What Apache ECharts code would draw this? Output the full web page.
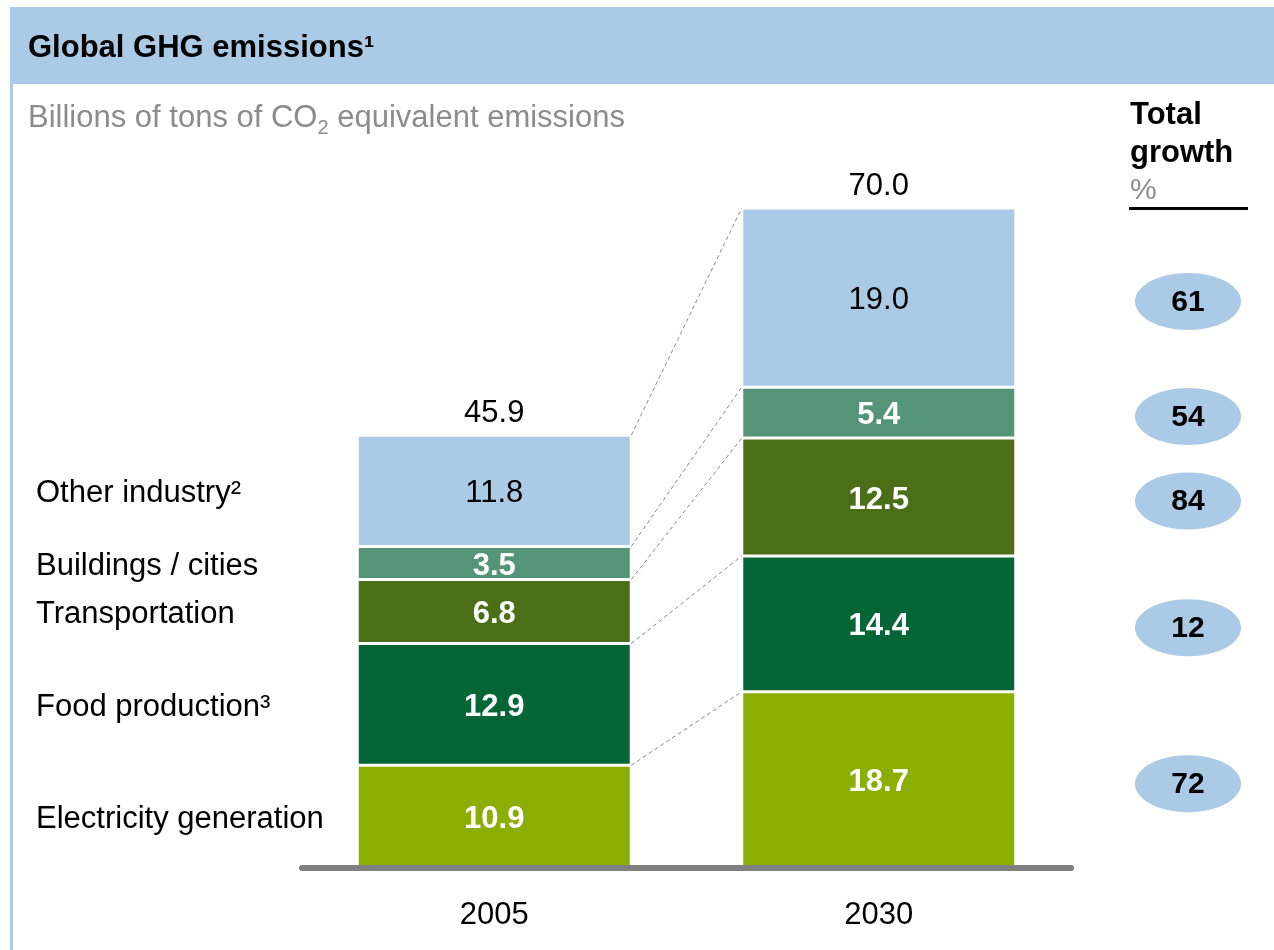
<!DOCTYPE html>
<html>
<head>
<meta charset="utf-8">
<script src="https://cdn.jsdelivr.net/npm/echarts@6/dist/echarts.min.js"></script>
<style>
html,body{margin:0;padding:0;background:#fff;}
#chart{width:1274px;height:950px;}
</style>
</head>
<body>
<div id="chart"></div>
<script>
// ---- data ----
const categories = ['2005', '2030'];
const sectors = ['Electricity generation', 'Food production³', 'Transportation', 'Buildings / cities', 'Other industry²'];
const values2005 = [10.9, 12.9, 6.8, 3.5, 11.8];
const values2030 = [18.7, 14.4, 12.5, 5.4, 19.0];
const totals = [45.9, 70.0];
const growthPct = [72, 12, 84, 54, 61];

// ---- styles ----
const FONT = '"Liberation Sans", Arial, Helvetica, sans-serif';
const FS = 31;
const LIGHT_BLUE = '#abcae6';
const colors = ['#8cad04', '#046637', '#4a6f16', '#54957a', LIGHT_BLUE];
const darkLabel = [true, true, true, true, false];
const BAR_W = 274;

const chart = echarts.init(document.getElementById('chart'));

function cum(arr, i) { let s = 0; for (let k = 0; k < i; k++) s += arr[k]; return s; }

const barSeries = sectors.map((name, i) => ({
  name: name,
  type: 'bar',
  stack: 'total',
  barWidth: BAR_W,
  data: [values2005[i], values2030[i]],
  itemStyle: { color: colors[i], borderColor: '#ffffff', borderWidth: 1.5 },
  label: {
    show: true,
    position: 'inside',
    offset: [0, 3],
    formatter: p => p.value.toFixed(1),
    fontFamily: FONT,
    fontSize: FS,
    fontWeight: darkLabel[i] ? 'bold' : 'normal',
    color: darkLabel[i] ? '#ffffff' : '#000000'
  },
  z: 2
}));

const overlaySeries = {
  type: 'custom',
  data: sectors.map((s, i) => [i, 0]),
  silent: true,
  z: 3,
  renderItem: function (params, api) {
    const i = params.dataIndex;
    const top05 = cum(values2005, i + 1), bot05 = cum(values2005, i);
    const top30 = cum(values2030, i + 1), bot30 = cum(values2030, i);
    const p1 = api.coord([0, top05]);
    const p2 = api.coord([1, top30]);
    const mid05 = api.coord([0, (top05 + bot05) / 2]);
    const mid30 = api.coord([1, (top30 + bot30) / 2]);
    return {
      type: 'group',
      children: [
        {
          type: 'line',
          shape: { x1: p1[0] + BAR_W / 2, y1: p1[1], x2: p2[0] - BAR_W / 2, y2: p2[1] },
          style: { stroke: '#8a8a8a', lineWidth: 1, lineDash: [4, 3] }
        },
        {
          type: 'text',
          x: 36, y: mid05[1] + 3,
          style: { text: sectors[i], fontFamily: FONT, fontSize: FS, fill: '#000', align: 'left', verticalAlign: 'middle' }
        },
        {
          type: 'ellipse',
          shape: { cx: 1188, cy: mid30[1] + 4, rx: 53, ry: 28.5 },
          style: { fill: LIGHT_BLUE }
        },
        {
          type: 'text',
          x: 1188, y: mid30[1] + 5,
          style: { text: String(growthPct[i]), fontFamily: FONT, fontSize: 30, fontWeight: 'bold', fill: '#000', align: 'center', verticalAlign: 'middle' }
        }
      ]
    };
  }
};

const totalSeries = {
  type: 'custom',
  data: totals.map((t, i) => [i, t]),
  silent: true,
  z: 3,
  renderItem: function (params, api) {
    const p = api.coord([api.value(0), api.value(1)]);
    return {
      type: 'text',
      x: p[0], y: p[1] - 22,
      style: { text: totals[params.dataIndex].toFixed(1), fontFamily: FONT, fontSize: FS, fill: '#000', align: 'center', verticalAlign: 'middle' }
    };
  }
};

const option = {
  animation: false,
  backgroundColor: '#ffffff',
  grid: { left: 302, right: 203, top: 208, bottom: 82 },
  xAxis: {
    type: 'category',
    data: categories,
    axisTick: { show: false },
    axisLine: { show: true, lineStyle: { color: '#808080', width: 6, cap: 'round' } },
    axisLabel: { margin: 32, fontFamily: FONT, fontSize: FS, color: '#000' },
    z: 5
  },
  yAxis: {
    type: 'value',
    min: 0, max: 70,
    show: false,
    splitLine: { show: false }
  },
  graphic: [
    { type: 'rect', shape: { x: 10, y: 7, width: 1264, height: 77 }, style: { fill: LIGHT_BLUE } },
    { type: 'rect', shape: { x: 10, y: 84, width: 3, height: 866 }, style: { fill: LIGHT_BLUE } },
    { type: 'text', x: 28, y: 48, style: { text: 'Global GHG emissions¹', fontFamily: FONT, fontSize: 31, fontWeight: 'bold', fill: '#000', verticalAlign: 'middle' } },
    { type: 'text', x: 28, y: 118, style: {
        text: '{a|Billions of tons of CO}{s|2}{a| equivalent emissions}',
        verticalAlign: 'middle',
        rich: {
          a: { fontFamily: FONT, fontSize: 31, fill: '#8c8c8c', color: '#8c8c8c', lineHeight: 40, verticalAlign: 'middle' },
          s: { fontFamily: FONT, fontSize: 20, fill: '#8c8c8c', color: '#8c8c8c', lineHeight: 40, verticalAlign: 'bottom', padding: [14, 0, 0, 0] }
        } } },
    { type: 'text', x: 1130, y: 115, style: { text: 'Total', fontFamily: FONT, fontSize: 31, fontWeight: 'bold', fill: '#000', verticalAlign: 'middle' } },
    { type: 'text', x: 1130, y: 153, style: { text: 'growth', fontFamily: FONT, fontSize: 31, fontWeight: 'bold', fill: '#000', verticalAlign: 'middle' } },
    { type: 'text', x: 1130, y: 191, style: { text: '%', fontFamily: FONT, fontSize: 30, fill: '#8c8c8c', verticalAlign: 'middle' } },
    { type: 'rect', shape: { x: 1129, y: 207, width: 119, height: 3 }, style: { fill: '#000' } }
  ],
  series: barSeries.concat([overlaySeries, totalSeries])
};

chart.setOption(option);
</script>
</body>
</html>
